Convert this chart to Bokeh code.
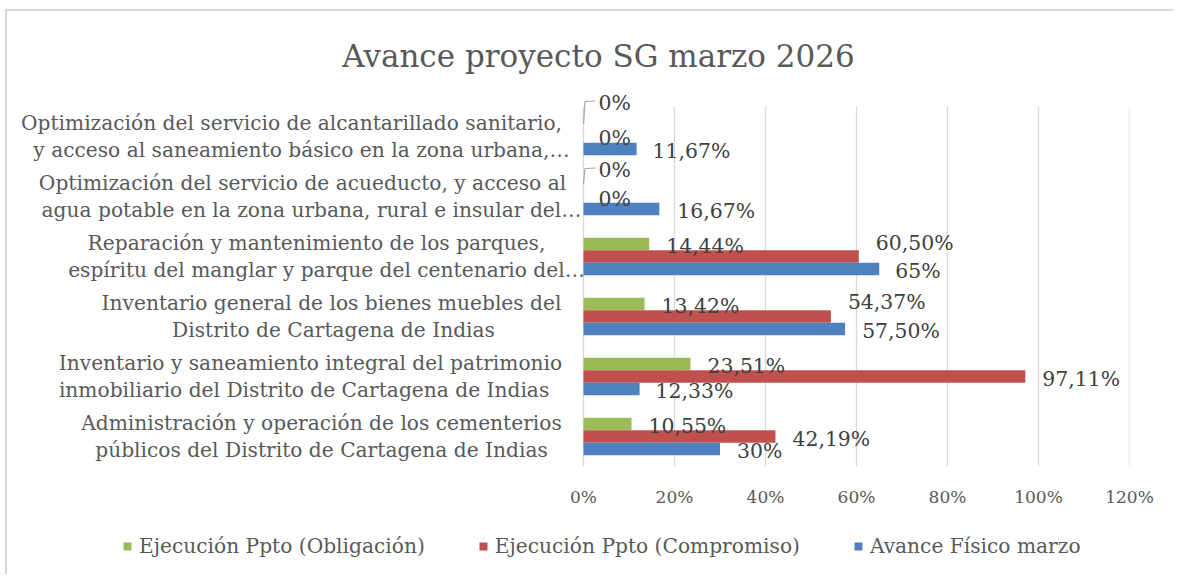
from bokeh.plotting import figure
from bokeh.layouts import column
from bokeh.models import (ColumnDataSource, Range1d, FixedTicker, PrintfTickFormatter,
                          LabelSet, Label, Legend, LegendItem, Arrow)
from bokeh.core.properties import value
from bokeh.embed import file_html
from bokeh.resources import INLINE

# ---------------- data ----------------
categories = [
    "Administración y operación de los cementerios\npúblicos del Distrito de Cartagena de Indias",
    "Inventario y saneamiento integral del patrimonio\ninmobiliario del Distrito de   Cartagena de Indias",
    "Inventario general de los bienes muebles del\nDistrito de Cartagena de Indias",
    "Reparación y mantenimiento de los parques,\nespíritu del manglar y parque del centenario del…",
    "Optimización del servicio de acueducto, y acceso al\nagua potable en la zona urbana, rural e insular del…",
    "Optimización del servicio de alcantarillado sanitario,\ny acceso al saneamiento básico en la zona urbana,…",
]
obligacion = [10.55, 23.51, 13.42, 14.44, 0, 0]
compromiso = [42.19, 97.11, 54.37, 60.50, 0, 0]
avance = [30, 12.33, 57.50, 65, 16.67, 11.67]
series_names = ["Ejecución Ppto (Obligación)", "Ejecución Ppto (Compromiso)", "Avance Físico marzo"]
x_ticks = [0, 20, 40, 60, 80, 100, 120]
title_text = "Avance proyecto SG marzo 2026"

# ---------------- style ----------------
FONT = "DejaVu Serif"
colors = ["#9bbb59", "#c0504d", "#4f81bd"]
bar_h = 0.208
dodges = [bar_h, 0.0, -bar_h]
# data-label nudges in pixels (per category, bottom to top)
lab_dx = [[17, 17, 17, 17, 15, 15],
          [17, 17, 17, 17, 15, 15],
          [17, 16, 17, 16, 18, 16]]
lab_dy = [[-2, -2, -2, -2, 14.5, 21.5],
          [-2.5, -2.5, 14.5, 13.5, -2.5, -1],
          [-2, -2, -2, -2, -2, -2]]
# category label line centres, px from the 0 % line (line 1, line 2)
cat_line_cx = [(-262, -262), (-273, -273), (-252, -250),
               (-267, -257), (-281, -272), (-292, -282)]
LINE_GAP = 13.5

# layout (canvas pixels)
W = 1168
H1 = 505                # main figure height
H2 = 60                 # legend strip height
LEFT_PAD = 576          # canvas x of the 0 % line
PLOT_W = 546            # width of the 0..120 % region
RIGHT_PAD = W - LEFT_PAD - PLOT_W
BAR_TOP = 95            # canvas y of the top of the bar area
BAR_BOTTOM = 455
BAND = 60               # px per category
BORDER = "2px solid #d9d9d9"

px_x = (x_ticks[-1] - x_ticks[0]) / PLOT_W
px_y = 1.0 / BAND
n = len(categories)
y_top = n + BAR_TOP / BAND
x_left = -LEFT_PAD * px_x


def pct(v):
    return f"{v:.0f}%" if float(v).is_integer() else f"{v:.2f}%".replace(".", ",")


p = figure(width=W, height=H1,
           x_range=Range1d(x_left, x_ticks[-1]), y_range=Range1d(0, y_top),
           output_backend="svg", toolbar_location=None,
           min_border_left=0, min_border_right=RIGHT_PAD,
           min_border_top=0, min_border_bottom=H1 - BAR_BOTTOM)
p.styles = {"margin-left": "5px", "margin-top": "9px",
            "border-left": BORDER, "border-top": BORDER,
            "border-right": "0px none", "border-bottom": "0px none", "box-shadow": "none"}
p.title = None
p.outline_line_color = None
p.background_fill_color = "white"
p.border_fill_color = "white"

p.yaxis.visible = False
p.ygrid.grid_line_color = None
p.xgrid.grid_line_color = None
p.xaxis.ticker = FixedTicker(ticks=x_ticks)
p.xaxis.formatter = PrintfTickFormatter(format="%d%%")
p.xaxis.axis_line_color = None
p.xaxis.major_tick_line_color = None
p.xaxis.minor_tick_line_color = None
p.xaxis.major_label_standoff = 14
p.xaxis.major_label_text_font = FONT
p.xaxis.major_label_text_font_size = "17px"
p.xaxis.major_label_text_color = "#595959"

# vertical gridlines only across the bar area
p.segment(x0=x_ticks, x1=x_ticks, y0=[0] * len(x_ticks), y1=[n] * len(x_ticks),
          line_color="#d9d9d9", line_width=1.3)

all_series = [obligacion, compromiso, avance]
sources = []
for s, vals in enumerate(all_series):
    ys = [i + 0.5 + dodges[s] for i in range(n)]
    src = ColumnDataSource(dict(y=ys, v=vals, text=[pct(v) for v in vals],
                                dx=lab_dx[s], dy=lab_dy[s]))
    sources.append(src)
    p.hbar(y="y", left=0, right="v", height=bar_h, source=src,
           fill_color=colors[s], line_color=None)
    p.add_layout(LabelSet(x="v", y="y", text="text", x_offset="dx", y_offset="dy",
                          source=src, text_align="left", text_baseline="middle",
                          text_font=value(FONT), text_font_size=value("20.4px"),
                          text_color="#404040"))

# leader lines for zero-value green labels
for i, v in enumerate(obligacion):
    if v == 0:
        y0 = i + 0.5 + dodges[0]
        y1 = y0 + (lab_dy[0][i] + 1) * px_y
        x1 = v + 1.5 * px_x
        x2 = v + (lab_dx[0][i] - 3) * px_x
        p.add_layout(Arrow(end=None, x_start=v, y_start=y0, x_end=x1, y_end=y1,
                           line_color="#a6a6a6", line_width=1.2))
        p.add_layout(Arrow(end=None, x_start=x1, y_start=y1, x_end=x2, y_end=y1 + 0.5 * px_y,
                           line_color="#a6a6a6", line_width=1.2))

# category labels: each line centred on its own
rows = dict(x=[], y=[], text=[], cx=[], dy=[])
for i, cat in enumerate(categories):
    lines = cat.split("\n")
    for k, line in enumerate(lines):
        rows["x"].append(0)
        rows["y"].append(i + 0.5)
        rows["text"].append(line)
        rows["cx"].append(cat_line_cx[i][k])
        rows["dy"].append(LINE_GAP if k == 0 else -LINE_GAP)
p.add_layout(LabelSet(x="x", y="y", text="text", x_offset="cx", y_offset="dy",
                      source=ColumnDataSource(rows),
                      text_align="center", text_baseline="middle",
                      text_font=value(FONT), text_font_size=value("20.2px"),
                      text_color="#595959"))

# title
p.add_layout(Label(x=0, y=n, x_offset=15, y_offset=51, text=title_text,
                   text_align="center", text_baseline="middle",
                   text_font=FONT, text_font_size="31px", text_color="#595959"))

# ---------------- legend strip ----------------
# the series glyphs are repeated here, far outside the visible range, only to feed the legend swatches
lp = figure(width=W, height=H2, x_range=Range1d(1000, 1001), y_range=Range1d(1000, 1001),
            x_axis_type=None, y_axis_type=None,
            output_backend="svg", toolbar_location=None, min_border=0)
lp.styles = {"margin-left": "5px", "border-left": BORDER,
             "border-right": "0px none", "border-bottom": "0px none", "box-shadow": "none"}
lp.title = None
lp.outline_line_color = None
lp.xgrid.visible = False
lp.ygrid.visible = False
swatches = [lp.hbar(y="y", left=0, right="v", height=bar_h, source=src,
                    fill_color=c, line_color=None)
            for src, c in zip(sources, colors)]
legend = Legend(items=[LegendItem(label=nm, renderers=[r]) for nm, r in zip(series_names, swatches)],
                orientation="horizontal", location=(115, 16), padding=0, margin=0,
                spacing=53, label_standoff=7, glyph_width=10, glyph_height=10,
                border_line_color=None, background_fill_alpha=0,
                label_text_font=FONT, label_text_font_size="20.2px", label_text_color="#595959")
lp.add_layout(legend)

layout = column(p, lp, spacing=0)
open("out.html", "w").write(file_html(layout, INLINE))
